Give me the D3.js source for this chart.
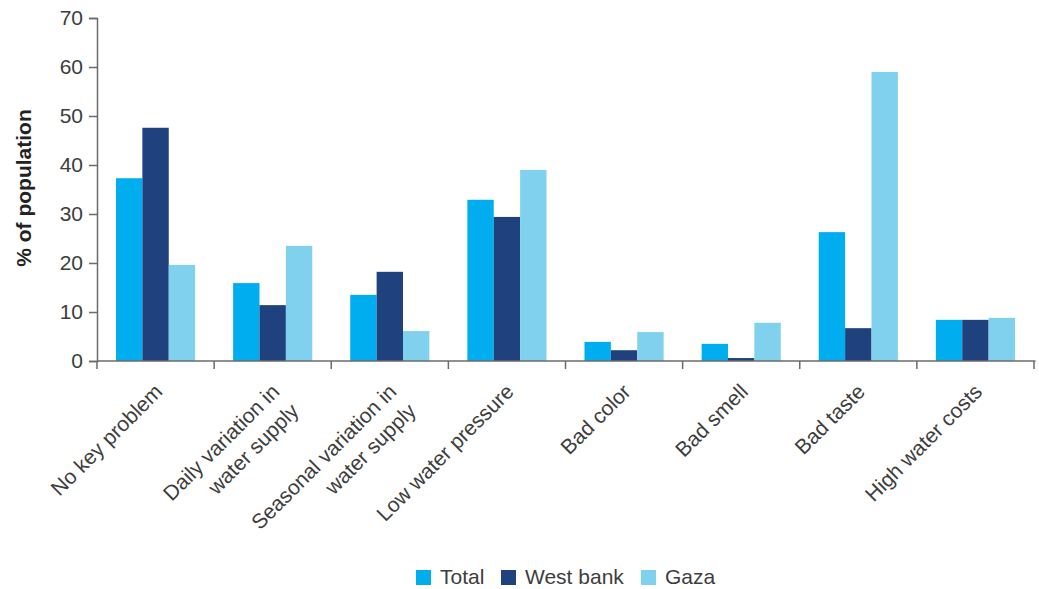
<!DOCTYPE html>
<html>
<head>
<meta charset="utf-8">
<script src="https://cdn.jsdelivr.net/npm/d3@7"></script>
<style>
  body { margin: 0; background: #fff; }
  svg text { font-family: "Liberation Sans", Arial, sans-serif; fill: #3d3d3d; }
</style>
</head>
<body>
<svg id="chart" width="1039" height="589"></svg>
<script>
// datos
var categories = ["No key problem", "Daily variation in\nwater supply", "Seasonal variation in\nwater supply",
    "Low water pressure", "Bad color", "Bad smell", "Bad taste", "High water costs"];
var series = ["Total", "West bank", "Gaza"];
var total = [37.3, 15.9, 13.5, 32.9, 3.9, 3.5, 26.3, 8.4];
var westBank = [47.6, 11.4, 18.2, 29.4, 2.2, 0.6, 6.7, 8.4];
var gaza = [19.6, 23.5, 6.1, 39.0, 5.9, 7.8, 59.0, 8.8];
var yTicks = [0, 10, 20, 30, 40, 50, 60, 70];
var colors = ["#00aeef", "#1f417e", "#7fd1ed"];

(function () {
    var values = [total, westBank, gaza];
    var svg = d3.select("#chart");

    var left = 97, right = 1034, plotTop = 18, bottom = 361;
    var fontSize = "21px";

    var x = d3.scaleBand().domain(categories).range([left, right]).padding(0);
    var xSub = d3.scaleBand().domain(series).range([0, x.bandwidth()]).paddingInner(0).paddingOuter(0.72);
    var y = d3.scaleLinear().domain([0, 70]).range([bottom, plotTop]);

    // barras
    series.forEach(function (s, i) {
        svg.append("g")
            .selectAll("rect")
            .data(categories)
            .enter().append("rect")
            .attr("x", function (c) { return x(c) + xSub(s); })
            .attr("y", function (c, j) { return y(values[i][j]); })
            .attr("width", xSub.bandwidth())
            .attr("height", function (c, j) { return bottom - y(values[i][j]); })
            .attr("fill", colors[i]);
    });

    // eje y
    var yAxis = svg.append("g")
        .attr("transform", "translate(" + left + ",0)")
        .call(d3.axisLeft(y).tickValues(yTicks).tickSize(8).tickPadding(6));
    yAxis.select(".domain").attr("stroke", "#6b6b6b").attr("stroke-width", 1.5);
    yAxis.selectAll(".tick line").attr("stroke", "#6b6b6b").attr("stroke-width", 1.5);
    yAxis.selectAll(".tick text").style("font-size", fontSize).style("fill", "#3d3d3d")
        .style("font-family", "Liberation Sans, Arial, sans-serif");

    // eje x: linea y marcas en los limites de cada categoria
    var bounds = categories.map(function (c) { return x(c); }).concat([right]);
    svg.append("line")
        .attr("x1", left).attr("x2", right + 1.5)
        .attr("y1", bottom).attr("y2", bottom)
        .attr("stroke", "#6b6b6b").attr("stroke-width", 1.5);
    svg.append("g").selectAll("line")
        .data(bounds)
        .enter().append("line")
        .attr("x1", function (d) { return d; }).attr("x2", function (d) { return d; })
        .attr("y1", bottom).attr("y2", bottom + 8)
        .attr("stroke", "#6b6b6b").attr("stroke-width", 1.5);

    // etiquetas del eje x, rotadas
    categories.forEach(function (c) {
        var lines = c.split("\n");
        var cx = x(c) + x.bandwidth() / 2;
        var t = svg.append("text")
            .attr("transform", "translate(" + (cx + 8) + "," + (bottom + 32) + ") rotate(-45)")
            .attr("text-anchor", "end")
            .style("font-size", fontSize);
        lines.forEach(function (l, k) {
            t.append("tspan").attr("x", 0).attr("dy", k === 0 ? 0 : "1.3em").text(l);
        });
    });

    // titulo del eje y
    svg.append("text")
        .attr("transform", "translate(31,188) rotate(-90)")
        .attr("text-anchor", "middle")
        .style("font-size", fontSize)
        .style("font-weight", "bold")
        .style("fill", "#222")
        .text("% of population");

    // leyenda
    var legendX = [416, 501, 641];
    series.forEach(function (s, i) {
        svg.append("rect")
            .attr("x", legendX[i]).attr("y", 570)
            .attr("width", 15).attr("height", 15)
            .attr("fill", colors[i]);
        svg.append("text")
            .attr("x", legendX[i] + 24).attr("y", 584)
            .style("font-size", fontSize)
            .text(s);
    });
})();
</script>
</body>
</html>
